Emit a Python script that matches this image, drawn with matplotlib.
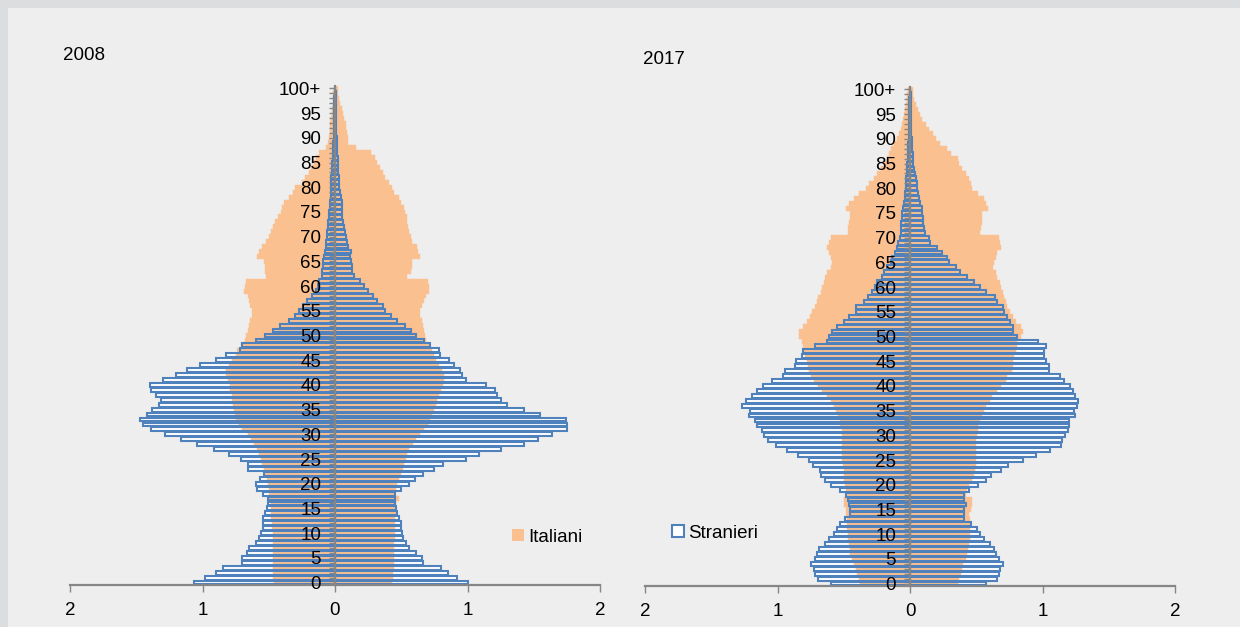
import numpy as np
import matplotlib.pyplot as plt
from matplotlib.patches import Patch, Rectangle

plt.rcParams['font.family'] = ['Liberation Sans', 'DejaVu Sans']

# eta' 0..100+, valori in percentuale (sinistra = maschi, destra = femmine)
ages = np.arange(101)
age_labels = [str(a) if a % 5 == 0 else '' for a in ages]
age_labels[100] = '100+'
x_ticks = [-2, -1, 0, 1, 2]
x_labels = ['2', '1', '0', '1', '2']
years = ['2008', '2017']
legend_labels = ['Italiani', 'Stranieri']

ita_2008_left = [
    0.46, 0.47, 0.47, 0.47, 0.47, 0.47, 0.47, 0.47, 0.47, 0.47,
    0.47, 0.475, 0.475, 0.48, 0.48, 0.485, 0.485, 0.495, 0.495, 0.50,
    0.505, 0.51, 0.525, 0.535, 0.55, 0.56, 0.575, 0.585, 0.61, 0.635,
    0.66, 0.70, 0.725, 0.75, 0.755, 0.76, 0.77, 0.775, 0.78, 0.79,
    0.795, 0.805, 0.82, 0.825, 0.80, 0.775, 0.75, 0.74, 0.71, 0.68,
    0.675, 0.66, 0.65, 0.64, 0.625, 0.625, 0.64, 0.65, 0.66, 0.69,
    0.68, 0.675, 0.52, 0.53, 0.53, 0.535, 0.585, 0.57, 0.55, 0.52,
    0.50, 0.485, 0.47, 0.45, 0.43, 0.41, 0.40, 0.385, 0.35, 0.32,
    0.30, 0.25, 0.23, 0.20, 0.18, 0.16, 0.14, 0.12, 0.065, 0.05,
    0.045, 0.04, 0.04, 0.035, 0.03, 0.025, 0.02, 0.018, 0.015, 0.012,
    0.01]
ita_2008_right = [
    0.43, 0.435, 0.44, 0.445, 0.445, 0.445, 0.445, 0.445, 0.445, 0.45,
    0.45, 0.455, 0.455, 0.455, 0.46, 0.46, 0.46, 0.485, 0.455, 0.46,
    0.47, 0.485, 0.495, 0.51, 0.52, 0.535, 0.545, 0.56, 0.585, 0.61,
    0.645, 0.67, 0.70, 0.72, 0.735, 0.75, 0.76, 0.77, 0.785, 0.80,
    0.815, 0.82, 0.82, 0.81, 0.785, 0.76, 0.75, 0.735, 0.71, 0.685,
    0.68, 0.67, 0.665, 0.66, 0.645, 0.645, 0.655, 0.67, 0.685, 0.71,
    0.71, 0.70, 0.545, 0.57, 0.58, 0.58, 0.645, 0.63, 0.62, 0.58,
    0.57, 0.56, 0.55, 0.545, 0.54, 0.53, 0.52, 0.50, 0.48, 0.445,
    0.43, 0.41, 0.38, 0.36, 0.34, 0.32, 0.30, 0.27, 0.16, 0.10,
    0.095, 0.09, 0.085, 0.08, 0.07, 0.06, 0.05, 0.04, 0.03, 0.025,
    0.02]
str_2008_left = [
    1.065, 0.98, 0.90, 0.845, 0.705, 0.70, 0.665, 0.65, 0.60, 0.575,
    0.56, 0.545, 0.54, 0.54, 0.53, 0.51, 0.505, 0.505, 0.545, 0.585,
    0.595, 0.565, 0.535, 0.655, 0.66, 0.71, 0.80, 0.91, 1.04, 1.16,
    1.28, 1.39, 1.45, 1.47, 1.42, 1.38, 1.33, 1.31, 1.35, 1.39,
    1.40, 1.30, 1.20, 1.12, 1.02, 0.90, 0.82, 0.72, 0.70, 0.60,
    0.53, 0.47, 0.415, 0.35, 0.30, 0.27, 0.245, 0.21, 0.175, 0.145,
    0.13, 0.12, 0.10, 0.095, 0.09, 0.088, 0.083, 0.078, 0.07, 0.065,
    0.063, 0.058, 0.053, 0.05, 0.045, 0.045, 0.04, 0.038, 0.033, 0.03,
    0.03, 0.028, 0.027, 0.025, 0.022, 0.02, 0.018, 0.016, 0.013, 0.012,
    0.011, 0.01, 0.009, 0.008, 0.007, 0.006, 0.005, 0.004, 0.004, 0.003,
    0.003]
str_2008_right = [
    1.0, 0.92, 0.85, 0.80, 0.665, 0.66, 0.61, 0.555, 0.535, 0.51,
    0.505, 0.50, 0.495, 0.48, 0.47, 0.46, 0.455, 0.455, 0.455, 0.495,
    0.56, 0.60, 0.665, 0.75, 0.815, 0.99, 1.09, 1.25, 1.43, 1.53,
    1.64, 1.75, 1.75, 1.74, 1.545, 1.43, 1.30, 1.25, 1.225, 1.21,
    1.14, 0.985, 0.96, 0.94, 0.90, 0.86, 0.79, 0.785, 0.72, 0.67,
    0.61, 0.57, 0.53, 0.47, 0.42, 0.38, 0.36, 0.32, 0.285, 0.25,
    0.22, 0.185, 0.145, 0.13, 0.125, 0.12, 0.113, 0.118, 0.10, 0.093,
    0.08, 0.075, 0.068, 0.06, 0.055, 0.055, 0.05, 0.05, 0.043, 0.035,
    0.033, 0.03, 0.028, 0.026, 0.024, 0.022, 0.02, 0.018, 0.015, 0.013,
    0.012, 0.011, 0.01, 0.009, 0.008, 0.007, 0.006, 0.005, 0.004, 0.004,
    0.003]

ita_2017_left = [
    0.38, 0.385, 0.40, 0.41, 0.425, 0.435, 0.45, 0.455, 0.46, 0.465,
    0.47, 0.475, 0.475, 0.475, 0.48, 0.485, 0.50, 0.495, 0.48, 0.485,
    0.49, 0.495, 0.50, 0.50, 0.505, 0.51, 0.51, 0.51, 0.51, 0.51,
    0.51, 0.515, 0.525, 0.53, 0.54, 0.555, 0.575, 0.60, 0.625, 0.665,
    0.695, 0.725, 0.75, 0.765, 0.77, 0.78, 0.79, 0.80, 0.81, 0.815,
    0.84, 0.835, 0.81, 0.78, 0.755, 0.74, 0.72, 0.705, 0.695, 0.675,
    0.665, 0.65, 0.64, 0.625, 0.60, 0.59, 0.60, 0.61, 0.63, 0.61,
    0.60, 0.47, 0.465, 0.46, 0.45, 0.45, 0.48, 0.46, 0.42, 0.385,
    0.335, 0.31, 0.27, 0.247, 0.217, 0.197, 0.17, 0.16, 0.14, 0.12,
    0.096, 0.083, 0.07, 0.058, 0.05, 0.045, 0.038, 0.03, 0.025, 0.02,
    0.015]
ita_2017_right = [
    0.363, 0.37, 0.385, 0.395, 0.40, 0.42, 0.43, 0.44, 0.445, 0.45,
    0.455, 0.455, 0.46, 0.455, 0.445, 0.46, 0.47, 0.465, 0.42, 0.43,
    0.445, 0.47, 0.485, 0.49, 0.495, 0.495, 0.495, 0.495, 0.495, 0.495,
    0.505, 0.51, 0.515, 0.53, 0.54, 0.56, 0.57, 0.60, 0.62, 0.655,
    0.685, 0.725, 0.735, 0.77, 0.777, 0.78, 0.785, 0.80, 0.81, 0.81,
    0.84, 0.85, 0.835, 0.80, 0.775, 0.755, 0.735, 0.725, 0.71, 0.70,
    0.69, 0.68, 0.66, 0.65, 0.63, 0.635, 0.65, 0.66, 0.685, 0.68,
    0.675, 0.53, 0.535, 0.54, 0.54, 0.545, 0.585, 0.57, 0.56, 0.51,
    0.47, 0.46, 0.445, 0.42, 0.395, 0.37, 0.36, 0.31, 0.28, 0.23,
    0.195, 0.17, 0.145, 0.12, 0.093, 0.075, 0.06, 0.043, 0.03, 0.025,
    0.025]
str_2017_left = [
    0.60, 0.695, 0.72, 0.725, 0.745, 0.715, 0.70, 0.69, 0.645, 0.61,
    0.575, 0.55, 0.525, 0.49, 0.45, 0.455, 0.46, 0.47, 0.485, 0.53,
    0.60, 0.645, 0.675, 0.68, 0.73, 0.765, 0.845, 0.93, 1.015, 1.07,
    1.105, 1.12, 1.155, 1.17, 1.215, 1.205, 1.27, 1.235, 1.195, 1.155,
    1.11, 1.045, 0.955, 0.94, 0.865, 0.86, 0.815, 0.81, 0.72, 0.625,
    0.61, 0.585, 0.55, 0.50, 0.46, 0.41, 0.41, 0.35, 0.32, 0.285,
    0.265, 0.25, 0.21, 0.20, 0.17, 0.146, 0.134, 0.116, 0.10, 0.09,
    0.078, 0.07, 0.065, 0.065, 0.063, 0.058, 0.05, 0.045, 0.04, 0.038,
    0.033, 0.03, 0.028, 0.025, 0.023, 0.02, 0.018, 0.016, 0.014, 0.012,
    0.011, 0.01, 0.009, 0.008, 0.007, 0.006, 0.005, 0.004, 0.004, 0.003,
    0.003]
str_2017_right = [
    0.57, 0.655, 0.675, 0.68, 0.70, 0.67, 0.65, 0.635, 0.60, 0.56,
    0.53, 0.505, 0.46, 0.405, 0.405, 0.41, 0.42, 0.41, 0.405, 0.445,
    0.51, 0.57, 0.615, 0.685, 0.74, 0.85, 0.95, 1.06, 1.14, 1.15,
    1.17, 1.19, 1.20, 1.20, 1.245, 1.235, 1.26, 1.265, 1.245, 1.23,
    1.21, 1.165, 1.13, 1.05, 1.05, 1.03, 1.015, 1.01, 1.025, 0.965,
    0.81, 0.78, 0.775, 0.755, 0.735, 0.71, 0.705, 0.655, 0.64, 0.57,
    0.53, 0.485, 0.43, 0.38, 0.345, 0.295, 0.28, 0.245, 0.205, 0.15,
    0.145, 0.11, 0.105, 0.10, 0.10, 0.093, 0.088, 0.075, 0.068, 0.06,
    0.055, 0.05, 0.043, 0.035, 0.03, 0.025, 0.023, 0.02, 0.018, 0.015,
    0.013, 0.011, 0.01, 0.009, 0.008, 0.007, 0.006, 0.005, 0.004, 0.004,
    0.003]

ORANGE = '#fac090'
BLUE = '#4f81bd'
GRAY = '#868686'
W, H = 1240, 627
FS = 13.5


def pyramid(ax, ita_l, ita_r, str_l, str_r):
    ita_l, ita_r = np.array(ita_l), np.array(ita_r)
    str_l, str_r = np.array(str_l), np.array(str_r)
    # riempimento bianco stranieri, poi italiani, poi contorno stranieri
    ax.barh(ages, -str_l, height=0.78, color='white', linewidth=0, zorder=1)
    ax.barh(ages, str_r, height=0.78, color='white', linewidth=0, zorder=1)
    ax.barh(ages, -ita_l, height=1.0, color=ORANGE, edgecolor=ORANGE, linewidth=0.3, zorder=2)
    ax.barh(ages, ita_r, height=1.0, color=ORANGE, edgecolor=ORANGE, linewidth=0.3, zorder=2)
    ax.barh(ages, -str_l, height=0.78, fill=False, edgecolor=BLUE, linewidth=1.5, zorder=3)
    ax.barh(ages, str_r, height=0.78, fill=False, edgecolor=BLUE, linewidth=1.5, zorder=3)

    ax.set_xlim(-2, 2)
    ax.set_ylim(-0.5, 100.5)
    ax.set_facecolor('none')
    for s in ['top', 'right']:
        ax.spines[s].set_visible(False)
    ax.spines['left'].set_position(('data', 0))
    for s in ['left', 'bottom']:
        ax.spines[s].set_color(GRAY)
        ax.spines[s].set_linewidth(1.6)
        ax.spines[s].set_zorder(6)
    ax.yaxis.set_zorder(6)

    ax.set_yticks(ages)
    ax.set_yticklabels(age_labels, fontsize=FS)
    ax.tick_params(axis='y', length=4, width=1, color=GRAY, pad=6)
    ax.set_xticks(x_ticks)
    ax.set_xticklabels(x_labels, fontsize=FS)
    ax.tick_params(axis='x', length=5, width=1, color=GRAY, pad=7)


fig = plt.figure(figsize=(W / 100, H / 100), dpi=100, facecolor='#dcdddf')
fig.add_artist(Rectangle((8 / W, 0), 1, 1 - 8 / H, transform=fig.transFigure,
                         facecolor='#eeeeee', edgecolor='none', zorder=0))

ax1 = fig.add_axes([70 / W, 42 / H, 530 / W, 499 / H])
ax2 = fig.add_axes([645 / W, 41 / H, 530 / W, 499 / H])

pyramid(ax1, ita_2008_left, ita_2008_right, str_2008_left, str_2008_right)
pyramid(ax2, ita_2017_left, ita_2017_right, str_2017_left, str_2017_right)

fig.text(63 / W, 1 - 55 / H, years[0], fontsize=FS, va='center', ha='left')
fig.text(643 / W, 1 - 60 / H, years[1], fontsize=FS, va='center', ha='left')

ax1.legend(handles=[Patch(facecolor=ORANGE, edgecolor='none', label=legend_labels[0])],
           loc='center left', bbox_to_anchor=(512 / W, 1 - 537 / H),
           bbox_transform=fig.transFigure, frameon=False, fontsize=FS,
           handlelength=0.65, handleheight=0.65, handletextpad=0.2,
           borderpad=0, borderaxespad=0)
ax2.legend(handles=[Patch(facecolor='white', edgecolor=BLUE, linewidth=1.5, label=legend_labels[1])],
           loc='center left', bbox_to_anchor=(672 / W, 1 - 533 / H),
           bbox_transform=fig.transFigure, frameon=False, fontsize=FS,
           handlelength=0.65, handleheight=0.65, handletextpad=0.2,
           borderpad=0, borderaxespad=0)

fig.savefig('out.png', dpi=100, facecolor=fig.get_facecolor())
